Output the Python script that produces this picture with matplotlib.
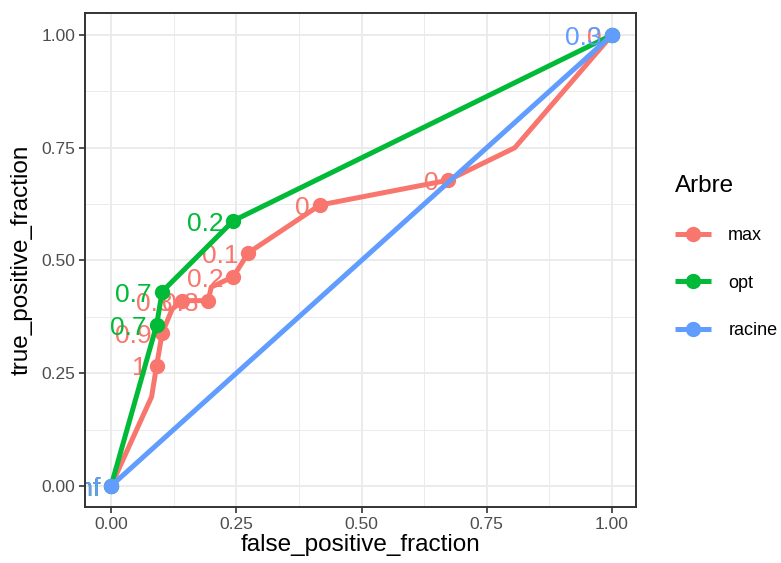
import numpy as np
import matplotlib
matplotlib.use('Agg')
import matplotlib.pyplot as plt

plt.rcParams['font.family'] = ['Liberation Sans', 'DejaVu Sans']

# courbes ROC (toutes les sommets de la ligne)
max_fpr = [0, 0.081, 0.091, 0.102, 0.122, 0.142, 0.194, 0.200, 0.244, 0.274, 0.417, 0.673, 0.806, 1.0]
max_tpr = [0, 0.198, 0.267, 0.339, 0.392, 0.411, 0.411, 0.441, 0.464, 0.517, 0.623, 0.678, 0.750, 1.0]
opt_fpr = [0, 0.091, 0.102, 0.244, 1.0]
opt_tpr = [0, 0.357, 0.431, 0.588, 1.0]
rac_fpr = [0, 1.0]
rac_tpr = [0, 1.0]

# points de coupure et leurs étiquettes
max_pt_fpr = [0, 0.091, 0.102, 0.142, 0.194, 0.244, 0.274, 0.417, 0.673, 1.0]
max_pt_tpr = [0, 0.267, 0.339, 0.411, 0.411, 0.464, 0.517, 0.623, 0.678, 1.0]
max_labels = ['Inf', '1', '0.9', '0.8', '0.8', '0.2', '0.1', '0', '0', '0']
opt_pt_fpr = [0, 0.091, 0.102, 0.244, 1.0]
opt_pt_tpr = [0, 0.357, 0.431, 0.588, 1.0]
opt_labels = ['Inf', '0.7', '0.7', '0.2', '']
rac_pt_fpr = [0, 1.0]
rac_pt_tpr = [0, 1.0]
rac_labels = ['Inf', '0.3']

groups = ['max', 'opt', 'racine']
colors = ['#F8766D', '#00BA38', '#619CFF']

fig = plt.figure(figsize=(7.81, 5.63), dpi=100)
ax = fig.add_axes([85/781, 1-507/563, (636-85)/781, (507-13)/563])

series = [
    (max_fpr, max_tpr, max_pt_fpr, max_pt_tpr, max_labels),
    (opt_fpr, opt_tpr, opt_pt_fpr, opt_pt_tpr, opt_labels),
    (rac_fpr, rac_tpr, rac_pt_fpr, rac_pt_tpr, rac_labels),
]
for i, (lx, ly, px, py, labs) in enumerate(series):
    z = 3 + i * 3
    ax.plot(lx, ly, color=colors[i], lw=3.6, solid_capstyle='butt', zorder=z,
            marker='o', markersize=10, markevery=[], label=groups[i])
    ax.plot(px, py, 'o', color=colors[i], markersize=10, zorder=z + 1)
    for x, y, s in zip(px, py, labs):
        if s:
            ax.text(x - 0.02, y - 0.022, s, color=colors[i], fontsize=19,
                    ha='right', va='baseline', zorder=z + 2, clip_on=True)

ax.set_xlim(-0.052, 1.048)
ax.set_ylim(-0.0466, 1.0488)
ticks = [0, 0.25, 0.5, 0.75, 1.0]
ax.set_xticks(ticks)
ax.set_yticks(ticks)
ax.set_xticklabels(['0.00', '0.25', '0.50', '0.75', '1.00'])
ax.set_yticklabels(['0.00', '0.25', '0.50', '0.75', '1.00'])
ax.set_xticks([0.125, 0.375, 0.625, 0.875], minor=True)
ax.set_yticks([0.125, 0.375, 0.625, 0.875], minor=True)
ax.tick_params(which='major', length=4, width=1.2, color='#333333',
               labelcolor='#4D4D4D', labelsize=12.5, pad=3)
ax.tick_params(which='minor', length=0)
ax.grid(which='major', color='#EBEBEB', lw=1.4)
ax.grid(which='minor', color='#EBEBEB', lw=0.7)
ax.set_axisbelow(True)
for sp in ax.spines.values():
    sp.set_color('#333333')
    sp.set_linewidth(1.4)
    sp.set_zorder(20)

ax.set_xlabel('false_positive_fraction', fontsize=17.5, labelpad=2)
ax.set_ylabel('true_positive_fraction', fontsize=17.5, labelpad=6)

leg = ax.legend(loc='upper left', bbox_to_anchor=(666/781, 1-166/563),
                bbox_transform=fig.transFigure, frameon=False, title='Arbre',
                fontsize=13, title_fontsize=17.5, handlelength=2.0,
                handletextpad=0.95, labelspacing=1.68, alignment='left',
                borderpad=0)

fig.savefig('out.png', dpi=100)
